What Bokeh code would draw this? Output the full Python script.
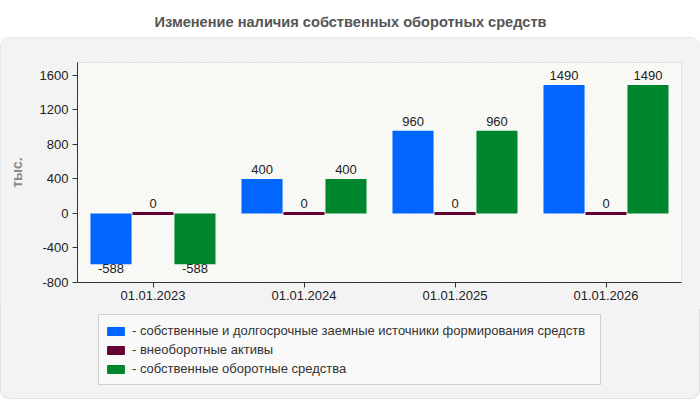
from bokeh.plotting import figure
from bokeh.layouts import column
from bokeh.models import (FactorRange, Range1d, FixedTicker, BoxAnnotation,
                          Legend, LegendItem, ColumnDataSource)
from bokeh.transform import dodge
from bokeh.core.properties import value
from bokeh.embed import file_html
from bokeh.resources import INLINE

# ---- data -------------------------------------------------------------
title_text = "Изменение наличия собственных оборотных средств"
dates = ["01.01.2023", "01.01.2024", "01.01.2025", "01.01.2026"]
sources = [-588, 400, 960, 1490]          # собственные и долгосрочные заемные источники
noncurrent = [0, 0, 0, 0]                 # внеоборотные активы
working_capital = [-588, 400, 960, 1490]  # собственные оборотные средства
series_names = [
    "- собственные и долгосрочные заемные источники формирования средств",
    "- внеоборотные активы",
    "- собственные оборотные средства",
]
series_colors = ["#0066ff", "#650034", "#00872d"]
y_ticks = [-800, -400, 0, 400, 800, 1200, 1600]
unit_label = "тыс."

FONT = "Liberation Sans"
PANEL = "#f3f3f3"

# ---- title strip ------------------------------------------------------
head = figure(width=700, height=37, x_range=(0, 1), y_range=(0, 1),
              x_axis_type=None, y_axis_type=None, output_backend="svg",
              toolbar_location=None, min_border=0, outline_line_color=None,
              border_fill_color="white", background_fill_color="white")
head.grid.visible = False
head.text(x=[0.5], y=[0.43], text=[title_text], text_align="center",
          text_baseline="middle", text_font=value(FONT), text_font_size="14.6px",
          text_font_style="bold", text_color="#555555")

# ---- main chart -------------------------------------------------------
p = figure(width=700, height=272, x_range=FactorRange(*dates),
           y_range=Range1d(-800, 1750), output_backend="svg",
           toolbar_location=None,
           min_border_left=77, min_border_right=19,
           min_border_top=25, min_border_bottom=27,
           border_fill_color=PANEL, background_fill_color="#fdfdf9",
           outline_line_color="#d4d4d4")

# faint diagonal hatching behind the bars
p.add_layout(BoxAnnotation(fill_color="#fdfdf9", fill_alpha=1.0,
                           hatch_pattern="/", hatch_color="#ebebeb",
                           hatch_alpha=1.0, hatch_scale=6, hatch_weight=0.8,
                           line_color=None, level="underlay"))

src = ColumnDataSource(dict(date=dates, s=sources, n=noncurrent,
                            w=working_capital, zero=[0] * len(dates)))

BW = 0.272
p.vbar(x=dodge("date", -0.278, range=p.x_range), top="s", bottom="zero",
       width=BW, source=src, fill_color=series_colors[0], line_color=None)
p.vbar(x=dodge("date", 0.0, range=p.x_range), top="n", bottom="zero",
       width=BW, source=src, fill_color=series_colors[1],
       line_color=series_colors[1], line_width=3)
p.vbar(x=dodge("date", 0.278, range=p.x_range), top="w", bottom="zero",
       width=BW, source=src, fill_color=series_colors[2], line_color=None)

# value labels: above non-negative bars, below negative ones
for vals, off in ((sources, -0.278), (noncurrent, 0.0), (working_capital, 0.278)):
    pos = [(d, v) for d, v in zip(dates, vals) if v >= 0]
    neg = [(d, v) for d, v in zip(dates, vals) if v < 0]
    if pos:
        ls = ColumnDataSource(dict(date=[d for d, _ in pos], v=[v for _, v in pos],
                                   t=[str(v) for _, v in pos]))
        p.text(x=dodge("date", off, range=p.x_range), y="v", text="t", source=ls,
               text_align="center", text_baseline="bottom", y_offset=-5,
               text_font=value(FONT), text_font_size="13px", text_color="#222222")
    if neg:
        ls = ColumnDataSource(dict(date=[d for d, _ in neg], v=[v for _, v in neg],
                                   t=[str(v) for _, v in neg]))
        p.text(x=dodge("date", off, range=p.x_range), y="v", text="t", source=ls,
               text_align="center", text_baseline="top", y_offset=0,
               text_font=value(FONT), text_font_size="13px", text_color="#222222")

# grid
for g in (p.xgrid, p.ygrid):
    g.grid_line_color = "#dadada"
    g.grid_line_dash = "4 3"
    g.grid_line_width = 1

# axes
p.yaxis.ticker = FixedTicker(ticks=y_ticks)
# plain hyphen for negative tick labels
p.yaxis.major_label_overrides = {t: str(t) for t in y_ticks}
p.yaxis.axis_label = unit_label
p.yaxis.axis_label_text_font = FONT
p.yaxis.axis_label_text_font_size = "14px"
p.yaxis.axis_label_text_font_style = "bold"
p.yaxis.axis_label_text_color = "#8a8a8a"
p.yaxis.axis_label_standoff = 12
for ax in (p.xaxis, p.yaxis):
    ax.axis_line_color = "#333333"
    ax.major_tick_line_color = "#333333"
    ax.major_tick_out = 5
    ax.major_tick_in = 0
    ax.minor_tick_line_color = None
    ax.major_label_text_font = FONT
    ax.major_label_text_font_size = "13px"
    ax.major_label_text_color = "#222222"
    ax.major_label_standoff = 4
p.xaxis.major_label_standoff = 3

# ---- legend strip -----------------------------------------------------
# transparent fills: the grey comes from the enclosing panel
leg = figure(width=700, height=90, x_range=(0, 1), y_range=(0, 1),
             x_axis_type=None, y_axis_type=None, output_backend="svg",
             toolbar_location=None, min_border=0,
             min_border_left=77, min_border_right=19,
             outline_line_color=None,
             border_fill_color=None, background_fill_color=None)
leg.grid.visible = False
# swatch-only renderers (a single NaN row, nothing plotted) for the colour keys
nan = float("nan")
keys = [leg.vbar(x=[nan], top=[nan], width=0.1, fill_color=c, line_color=c)
        for c in series_colors]
legend = Legend(items=[LegendItem(label=n, renderers=[r])
                       for n, r in zip(series_names, keys)],
                location=(21, 14), orientation="vertical",
                label_text_font=FONT, label_text_font_size="13px",
                label_text_color="#333333", glyph_width=21, glyph_height=10,
                label_standoff=6, padding=6, spacing=0, label_height=19,
                label_width=462, border_line_color="#aaaaaa",
                background_fill_color="#f9f9f9", background_fill_alpha=1.0,
                margin=0)
leg.add_layout(legend)

panel = column(p, leg, spacing=0,
               styles={"border-radius": "9px", "overflow": "hidden",
                       "background-color": PANEL,
                       "outline": "1px solid #e2e2e2", "outline-offset": "-1px"})
layout = column(head, panel, spacing=0)
open("out.html", "w").write(file_html(layout, INLINE))
